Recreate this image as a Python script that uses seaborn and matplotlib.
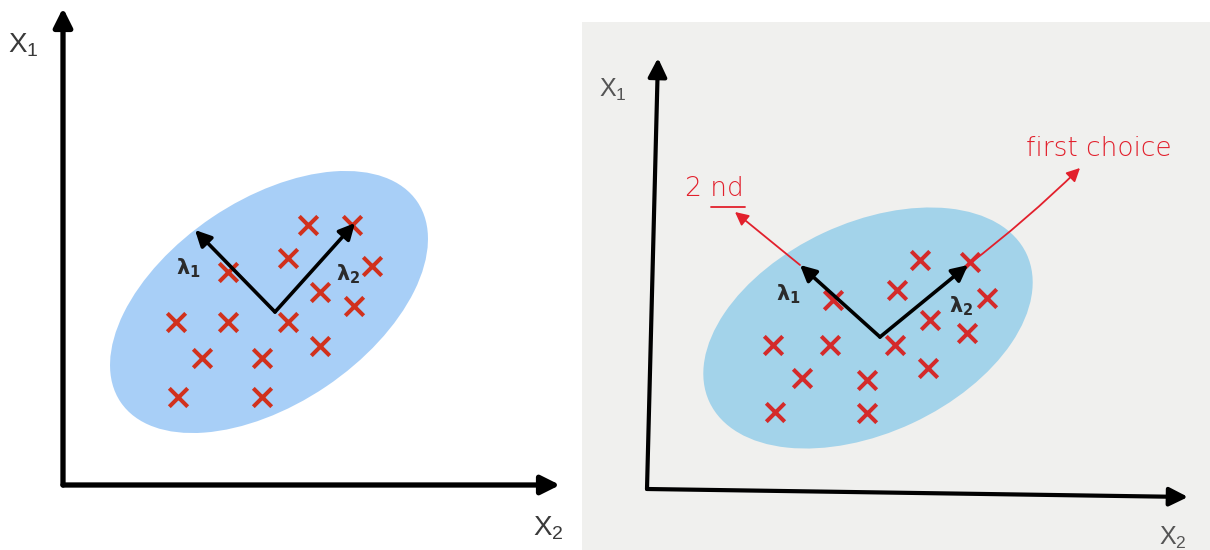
import seaborn as sns
import pandas as pd
import matplotlib.pyplot as plt
from matplotlib.patches import Ellipse

# both panels use pixel-like units measured from the corner of the drawn axes
# left panel: clean diagram
left_x2 = [245, 289, 225, 165, 309, 257, 291, 113, 165, 225, 257, 139, 199, 115, 199]
left_x1 = [260, 260, 227, 213, 219, 193, 179, 163, 163, 163, 139, 127, 127, 88, 88]
left_cloud = dict(center=(206, 183), width=358, height=204, angle=34)
left_origin = (212, 173)
left_lambda1 = (132, 255)
left_lambda2 = (292, 262)
left_axis_tips = [(0, 477), (497, 0)]

# right panel: photographed whiteboard with red notes
right_x2 = [273, 323, 250, 186, 340, 283, 320, 126, 183, 248, 281, 155, 220, 128, 220]
right_x1 = [229, 227, 199, 189, 191, 169, 156, 144, 144, 144, 121, 111, 109, 77, 76]
right_cloud = dict(center=(221, 161), width=350, height=210, angle=25)
right_origin = (233, 152)
right_lambda1 = (153, 224)
right_lambda2 = (321, 224)
right_axis_tips = [(11, 431), (541, -8)]
second_tip = (88, 277)
first_tip = (433, 321)

LABEL_FONT = ['Liberation Sans', 'DejaVu Sans']


def arrow(ax, start, end, color='black', lw=3.6, scale=30, rad=0.0, z=5):
    ax.annotate('', xy=end, xytext=start, zorder=z,
                arrowprops=dict(arrowstyle='-|>', color=color, lw=lw,
                                mutation_scale=scale, shrinkA=0, shrinkB=0,
                                connectionstyle=f'arc3,rad={rad}'))


def clean_axes(ax, face):
    ax.set_facecolor(face)
    for s in ax.spines.values():
        s.set_visible(False)
    ax.set_xticks([])
    ax.set_yticks([])
    ax.set_xlabel('')
    ax.set_ylabel('')


def draw_panel(ax, x2, x1, cloud, cloud_color, cross_color, origin, lam1, lam2,
               tips, lam_pos, axis_lw):
    ax.add_patch(Ellipse(cloud['center'], cloud['width'], cloud['height'],
                         angle=cloud['angle'], facecolor=cloud_color,
                         edgecolor='none', zorder=1))
    df = pd.DataFrame({'x2': x2, 'x1': x1})
    sns.scatterplot(data=df, x='x2', y='x1', ax=ax, marker='x', s=175,
                    color=cross_color, linewidth=2.9, zorder=3)
    for tip in tips:
        arrow(ax, (0, 0), tip, lw=axis_lw, scale=28)
    arrow(ax, origin, lam1, lw=2.6, scale=24, z=6)
    arrow(ax, origin, lam2, lw=2.6, scale=24, z=6)
    ax.text(*lam_pos[0], r'$\mathbf{\lambda_1}$', fontsize=15, color='#2b2b2b',
            ha='center', va='center', zorder=7)
    ax.text(*lam_pos[1], r'$\mathbf{\lambda_2}$', fontsize=15, color='#2b2b2b',
            ha='center', va='center', zorder=7)


sns.set_style('white')
plt.rcParams['mathtext.fontset'] = 'dejavusans'
fig = plt.figure(figsize=(12.1, 5.5), dpi=100)
fig.patch.set_facecolor('white')

ax_l = fig.add_axes([0, 0, 580 / 1210, 1])
draw_panel(ax_l, left_x2, left_x1, left_cloud, '#a8cff7', '#d1311d',
           left_origin, left_lambda1, left_lambda2, left_axis_tips,
           [(125, 217), (285, 211)], axis_lw=3.8)
ax_l.text(-40, 440, r'$\mathregular{X_1}$', fontsize=20, color='#3a3a3a',
          family=LABEL_FONT, ha='center', va='center')
ax_l.text(485, -43, r'$\mathregular{X_2}$', fontsize=20, color='#3a3a3a',
          family=LABEL_FONT, ha='center', va='center')
ax_l.set_xlim(-63, 517)
ax_l.set_ylim(-65, 485)
clean_axes(ax_l, 'white')

ax_r = fig.add_axes([582 / 1210, 0, 628 / 1210, 528 / 550])
draw_panel(ax_r, right_x2, right_x1, right_cloud, '#a3d3ea', '#d42a2a',
           right_origin, right_lambda1, right_lambda2, right_axis_tips,
           [(141, 195), (314, 183)], axis_lw=3.0)
ax_r.text(-34, 399, r'$\mathregular{X_1}$', fontsize=18, color='#555555',
          family=LABEL_FONT, ha='center', va='center')
ax_r.text(526, -49, r'$\mathregular{X_2}$', fontsize=18, color='#555555',
          family=LABEL_FONT, ha='center', va='center')

# red handwritten notes
red = '#e2202c'
arrow(ax_r, right_lambda1, second_tip, color=red, lw=1.3, scale=20, z=4)
arrow(ax_r, right_lambda2, first_tip, color=red, lw=1.3, scale=20, rad=0.03, z=4)
ax_r.text(67, 300, '2 nd', fontsize=19, color=red, fontweight='light',
          ha='center', va='center')
ax_r.plot([64, 98], [282, 282], color=red, lw=1.3)
ax_r.text(452, 341, 'first choice', fontsize=19, color=red, fontweight='light',
          ha='center', va='center')

ax_r.set_xlim(-65, 563)
ax_r.set_ylim(-61, 467)
clean_axes(ax_r, '#f0f0ee')

fig.savefig('out.png', dpi=100)
